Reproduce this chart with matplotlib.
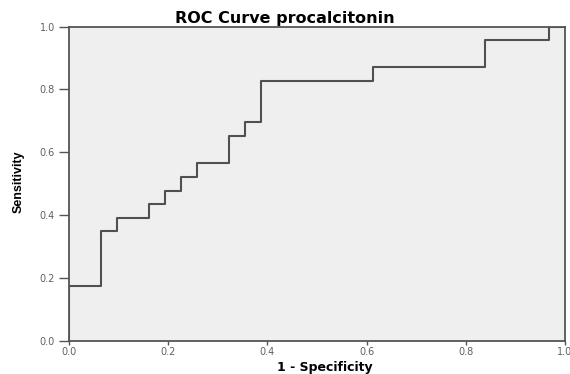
#!/usr/bin/env python3
"""ROC curve for procalcitonin (SPSS-style step plot)."""
import matplotlib
matplotlib.use("Agg")
import matplotlib.pyplot as plt

plt.rcParams.update({
    "font.family": ["DejaVu Sans"],
    "font.size": 7,
})

# step corners (1 - specificity, sensitivity)
fpr = [0.0, 0.0, 0.065, 0.097, 0.161, 0.194, 0.226, 0.258, 0.323, 0.355,
       0.387, 0.613, 0.839, 0.968, 1.0]
tpr = [0.0, 0.174, 0.348, 0.391, 0.435, 0.478, 0.522, 0.565, 0.652, 0.696,
       0.826, 0.870, 0.957, 1.0, 1.0]
ticks = [0.0, 0.2, 0.4, 0.6, 0.8, 1.0]

fig = plt.figure(figsize=(5.7, 3.74), dpi=100)
ax = fig.add_axes([0.121, 0.089, 0.870, 0.840])
ax.set_facecolor("#efefef")
ax.plot(fpr, tpr, drawstyle="steps-post", color="#505050", lw=1.5)

ax.set_xlim(0, 1)
ax.set_ylim(0, 1)
ax.set_xticks(ticks)
ax.set_yticks(ticks)
ax.set_xticklabels([f"{t:.1f}" for t in ticks])
ax.set_yticklabels([f"{t:.1f}" for t in ticks])
for s in ax.spines.values():
    s.set_color("#555555")
    s.set_linewidth(1.3)
ax.tick_params(direction="out", width=1, color="#555555",
               labelcolor="#606060", labelsize=7)
ax.tick_params(axis="x", length=3, pad=1.5)
ax.tick_params(axis="y", length=7, pad=3)

# SPSS centres the title on the whole chart, not the plot area
fig.text(0.5, 1 - 23 / 374, "ROC Curve procalcitonin", ha="center",
         va="baseline", fontsize=11.5, fontweight="bold")
fig.text(0.570, 1 - 371 / 374, "1 - Specificity", ha="center",
         va="baseline", fontsize=9, fontweight="bold")
fig.text(19 / 570, 0.515, "Sensitivity", ha="center", va="center",
         rotation=90, fontsize=9, fontweight="bold",
         family=["Liberation Sans Narrow", "Liberation Sans"])

fig.savefig("out.png", dpi=100, facecolor="white")
plt.close(fig)
